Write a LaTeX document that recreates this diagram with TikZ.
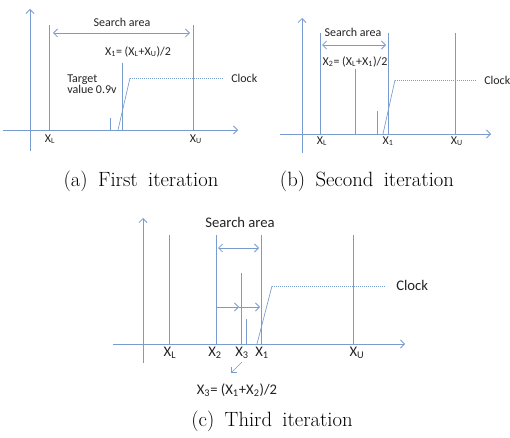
\documentclass[tikz,border=0pt]{standalone}
\usepackage{fontspec}
\newfontfamily\lblfont{Carlito}
\usetikzlibrary{arrows.meta}
\definecolor{axisblue}{RGB}{120,155,208}
\definecolor{lbltext}{RGB}{35,35,35}
\newcommand\capfont{\fontsize{15.5}{18}\selectfont\spaceskip=0.5em\relax}
\tikzset{
  axis/.style={-{Straight Barb[length=3pt,width=6pt]}, line width=0.6pt, color=axisblue},
  bar/.style={line width=0.65pt, color=axisblue},
  span/.style={{Straight Barb[length=3pt,width=6pt]}-{Straight Barb[length=3pt,width=6pt]}, line width=0.6pt, color=axisblue},
  push/.style={-{Straight Barb[length=3pt,width=6pt]}, line width=0.6pt, color=axisblue},
  rise/.style={line width=0.5pt, color=axisblue},
  level/.style={line width=0.5pt, color=axisblue, densely dotted},
  lbl/.style={font=\lblfont\fontsize{9}{8.5}\selectfont, text=lbltext, inner sep=0pt},
  biglbl/.style={font=\lblfont\fontsize{11}{12}\selectfont, text=lbltext, inner sep=0pt},
  caption/.style={font=\capfont, inner sep=0pt}
}

\begin{document}
\begin{tikzpicture}[x=0.75pt, y=-0.75pt]
  \useasboundingbox (0,0) rectangle (510,438);

  % (a) First iteration
  \draw[axis] (30,151) -- (30,9);
  \draw[axis] (3,130) -- (238,130);
  \draw[bar] (49,25) -- (49,130);
  \draw[bar] (193,25) -- (193,130);
  \draw[span] (53,33) -- (190,33);
  \node[lbl] (sa) at (122,22) {Search area};
  \draw[bar] (122,63) -- (122,130);
  \node[lbl] (fa) at (138,52) {X\textsubscript{1}= (X\textsubscript{L}+X\textsubscript{U})/2};
  \draw[bar] (110,118) -- (110,130);
  \node[lbl, anchor=west, align=left] (ta) at (67,84.5) {Target\\value 0.9v};
  \draw[rise] (118,130) -- (130,78);
  \draw[level] (130,78) -- (224,78);
  \node[lbl, anchor=west] (ca) at (231,78) {Clock};
  \node[lbl] (xla) at (50,139) {X\textsubscript{L}};
  \node[lbl] (xua) at (196,139) {X\textsubscript{U}};
  \node[caption] (capa) at (141,181) {(a) First iteration};

  % (b) Second iteration
  \draw[axis] (302,153) -- (302,18);
  \draw[axis] (280,134) -- (491,134);
  \draw[bar] (320,33) -- (320,134);
  \draw[bar] (388,33) -- (388,134);
  \draw[bar] (455,33) -- (455,134);
  \draw[span] (322,45) -- (386,45);
  \node[lbl] (sb) at (353,32) {Search area};
  \draw[bar] (355,69) -- (355,134);
  \node[lbl] (fb) at (355,62) {X\textsubscript{2}= (X\textsubscript{L}+X\textsubscript{1})/2};
  \draw[bar] (377,111) -- (377,134);
  \draw[rise] (383,134) -- (395,80);
  \draw[level] (395,80) -- (477,80);
  \node[lbl, anchor=west] (cb) at (484,80) {Clock};
  \node[lbl] (xlb) at (322,141) {X\textsubscript{L}};
  \node[lbl] (x1b) at (388,141) {X\textsubscript{1}};
  \node[lbl] (xub) at (457,141) {X\textsubscript{U}};
  \node[caption] (capb) at (367,181) {(b) Second iteration};

  % (c) Third iteration
  \draw[axis] (143,363) -- (143,218);
  \draw[axis] (113,344) -- (405,344);
  \draw[bar] (169,235) -- (169,344);
  \draw[bar] (216,235) -- (216,344);
  \draw[bar] (261,235) -- (261,344);
  \draw[bar] (353,235) -- (353,344);
  \draw[span] (218,248) -- (259,248);
  \node[biglbl] (sc) at (240,222) {Search area};
  \draw[bar] (241,273) -- (241,344);
  \draw[bar] (246,319) -- (246,344);
  \draw[push] (216,307) -- (239,307);
  \draw[push] (239,307) -- (260,307);
  \draw[rise] (257,344) -- (272,286);
  \draw[level] (272,286) -- (385,286);
  \node[biglbl, anchor=west] (cc) at (396,285) {Clock};
  \node[biglbl] (xlc) at (170,353) {X\textsubscript{L}};
  \node[biglbl] (x2c) at (215,353) {X\textsubscript{2}};
  \node[biglbl] (x3c) at (242,353) {X\textsubscript{3}};
  \node[biglbl] (x1c) at (262,353) {X\textsubscript{1}};
  \node[biglbl] (xuc) at (357,353) {X\textsubscript{U}};
  \coordinate (tip) at (231,373);
  \draw[push, line width=0.5pt] (242,362) -- (tip);
  \node[biglbl] (fc) at (237,390) {X\textsubscript{3}= (X\textsubscript{1}+X\textsubscript{2})/2};
  \node[caption] (capc) at (272,421) {(c) Third iteration};
\end{tikzpicture}
\end{document}
